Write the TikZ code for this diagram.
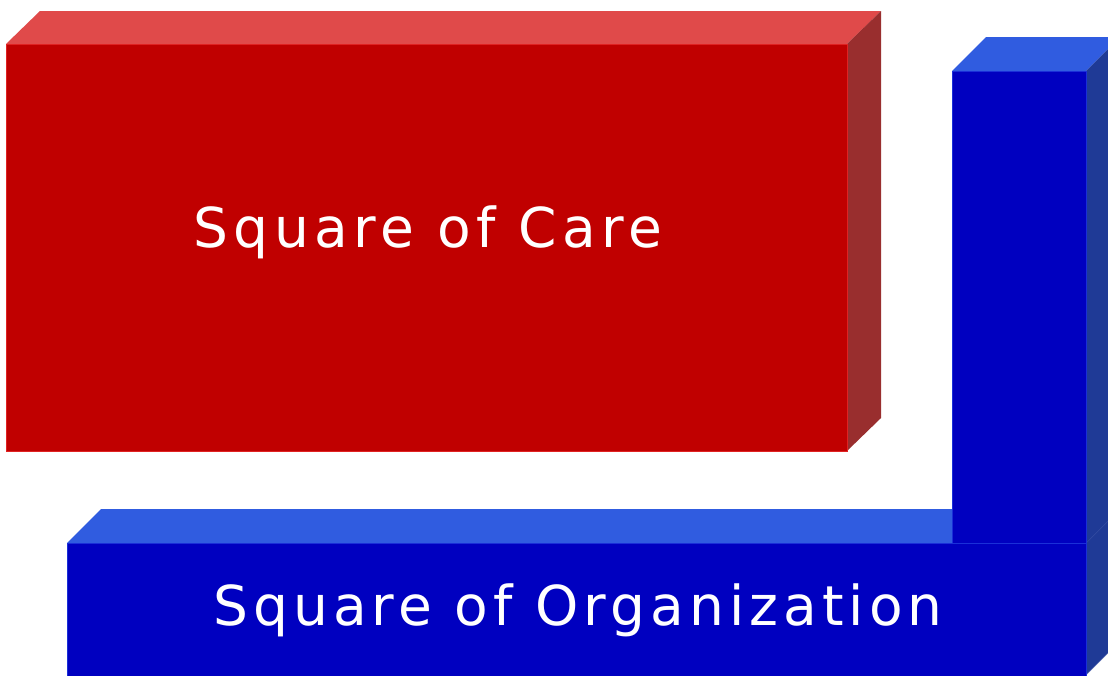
\documentclass[tikz,border=0pt]{standalone}
\usepackage{fontspec}
\newfontfamily\lblfontA[LetterSpace=10]{DejaVu Sans}
\newfontfamily\lblfontB[LetterSpace=9.2]{DejaVu Sans}
\definecolor{redfront}{HTML}{C00000}
\definecolor{redtop}{HTML}{E04A4A}
\definecolor{redside}{HTML}{992E2E}
\definecolor{rededge}{HTML}{E02222}
\definecolor{bluefront}{HTML}{0000C0}
\definecolor{bluetop}{HTML}{305CE0}
\definecolor{blueside}{HTML}{1F3A96}
\definecolor{blueedge}{HTML}{1A2FD8}
\tikzset{
  redfrontface/.style={fill=redfront, draw=rededge, line width=1pt},
  redtopface/.style={fill=redtop},
  redsideface/.style={fill=redside},
  bluefrontface/.style={fill=bluefront, draw=blueedge, line width=1pt},
  bluetopface/.style={fill=bluetop},
  bluesideface/.style={fill=blueside, draw=blueside!70!white, line width=0.5pt},
  boxlabel/.style={text=white, inner sep=0pt, anchor=base}
}
\begin{document}
\begin{tikzpicture}[x=1pt,y=-1pt]
\useasboundingbox (0,0) rectangle (1108,675);
\begin{scope}
\clip (0,0) rectangle (1108,675);
% red box
\fill[redtopface] (6,44) -- (40,11) -- (881,11) -- (847,44) -- cycle;
\fill[redsideface] (847,44) -- (881,11) -- (881,418) -- (847,451) -- cycle;
\path[redfrontface] (6,44) rectangle (847,451);
% horizontal blue bar
\fill[bluetopface] (67,543) -- (101,509) -- (1120,509) -- (1086,543) -- cycle;
\path[bluesideface] (1086,543) -- (1120,509) -- (1120,641) -- (1086,675) -- cycle;
\path[bluefrontface] (67,543) rectangle (1086,690);
% vertical blue bar
\fill[bluetopface] (952,71) -- (986,37) -- (1120,37) -- (1086,71) -- cycle;
\fill[blueside] (1086,71) -- (1120,37) -- (1120,509) -- (1086,543) -- cycle;
\path[bluefrontface] (952,71) rectangle (1086,543);
\end{scope}
\node[boxlabel] (care) at (428,247) {\lblfontA\fontsize{55}{60}\selectfont Square of Care};
\node[boxlabel] (org) at (578,625) {\lblfontB\fontsize{55}{60}\selectfont Square of Organization};
\end{tikzpicture}
\end{document}
